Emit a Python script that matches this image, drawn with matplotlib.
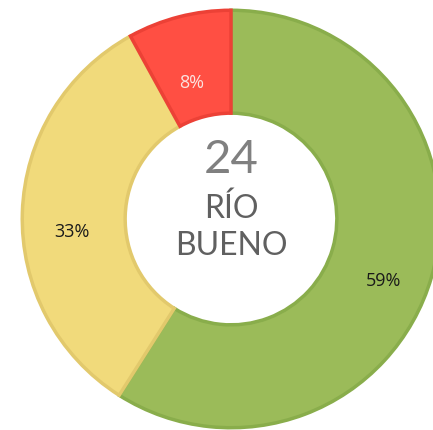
import numpy as np
import matplotlib
matplotlib.use("Agg")
import matplotlib.pyplot as plt

# slice data, clockwise from 12 o'clock
labels = ["Bueno", "Regular", "Malo"]
shares = [59, 33, 8]
fills = ["#9BBB59", "#F1DA7B", "#FF4F43"]
edges = ["#89AD4B", "#E2C96C", "#EC4136"]
pct_colors = ["#1a1a1a", "#1a1a1a", "#FBE3E0"]

center_count = "24"
center_name = ["RÍO", "BUENO"]

W, H = 433, 431
cx, cy, R = 231, 220, 210  # pixel centre and outer radius

fig = plt.figure(figsize=(W / 100, H / 100), dpi=100)
ax = fig.add_axes([0, 0, 1, 1])
ax.axis("off")

ring = 0.49
wedges, _, autotexts = ax.pie(
    shares, colors=fills, startangle=90, counterclock=False, radius=1 - 0.006,
    autopct="%1.0f%%", pctdistance=0.76,
    wedgeprops=dict(width=ring, linewidth=2.5),
    textprops=dict(fontsize=13, family="Open Sans"),
)
ax.set_xlim(-cx / R, (W - cx) / R)
ax.set_ylim(-(H - cy) / R, cy / R)
ax.set_aspect("auto")

for w, ec, t, tc in zip(wedges, edges, autotexts, pct_colors):
    w.set_edgecolor(ec)
    t.set_color(tc)
    x, y = t.get_position()
    t.set_position((x, y - 0.08))

ax.text(0, 0.285, center_count, ha="center", va="center", fontsize=34,
        color="#808080", family="Lato")
ax.text(0, 0.055, center_name[0], ha="center", va="center", fontsize=23,
        color="#606060", family="Lato")
ax.text(0, -0.125, center_name[1], ha="center", va="center", fontsize=23,
        color="#606060", family="Lato")

fig.savefig("out.png", dpi=100, facecolor="white")
plt.close(fig)
